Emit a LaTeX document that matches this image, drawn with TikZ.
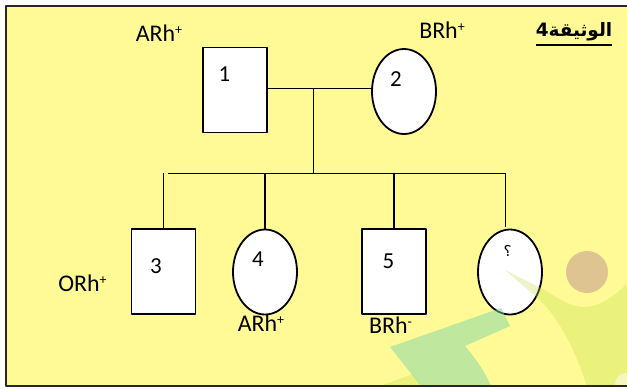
\documentclass[tikz,border=0pt]{standalone}
\usepackage{fontspec}
\setmainfont{Carlito}
\newfontfamily\arabicfont[Script=Arabic]{DejaVu Sans}
\TeXXeTstate=1
\usetikzlibrary{shapes.geometric}
\definecolor{docyellow}{RGB}{255,250,150}
\definecolor{logotan}{RGB}{222,196,145}
\definecolor{logogreen}{RGB}{129,213,167}
\definecolor{logolime}{RGB}{192,221,70}
\newcommand{\rhsign}[1]{\raisebox{7bp}{\fontsize{14}{14}\selectfont#1}}
\tikzset{
	male/.style={draw, fill=white, line width=1.8bp, minimum width=64bp, minimum height=85bp, inner sep=0pt},
	female/.style={ellipse, draw, fill=white, line width=1.8bp, minimum width=64bp, minimum height=85bp, inner sep=0pt},
	link/.style={line width=1.5bp},
	num/.style={inner sep=0pt},
	geno/.style={inner sep=0pt, font=\fontsize{24}{28}\selectfont},
}
\begin{document}
\begin{tikzpicture}[x=1bp, y=-1bp, font=\fontsize{23}{27}\selectfont, line join=round]
		\useasboundingbox (0,0) rectangle (627,388);
		\fill[white] (0,0) rectangle (627,388);
		\fill[docyellow] (6,6) rectangle (640,386);
		% parents and children
		\node[male] (p1) at (235,90) {};
		\node[female] (p2) at (404,91.5) {};
		\node[male] (p3) at (163.5,271.5) {};
		\node[female] (p4) at (265,272) {};
		\node[male] (p5) at (394,271.5) {};
		\node[female] (p6) at (510,272) {};
		\path (313.5,88.3) coordinate (m)
		(313.5,173.3) coordinate (s)
		(168,173.3) coordinate (sl)
		(506,173.3) coordinate (sr)
		(505.5,227) coordinate (q)
		;
		\draw[link] (p1.east |- m) -- (p2.west |- m);
		\draw[link] (m) -- (s);
		\draw[link] (sl) -- (sr);
		\foreach \c in {p3,p4,p5}
		\draw[link] (\c.north) -- (\c.north |- s);
		\draw[link] (q) -- (q |- s);
		% numbers
		\node[num] (n1) at (224.5,74.5) {1};
		\node[num] (n2) at (396,79) {2};
		\node[num] (n3) at (156,266) {3};
		\node[num] (n4) at (258,259.5) {4};
		\node[num] (n5) at (388.5,261.5) {5};
		\node[num] (n6) at (507.5,251) {\arabicfont\fontsize{15}{18}\selectfont\beginR ؟\endR};
		% blood groups
		\node[geno] (g1) at (159,33.5) {ARh\rhsign{+}};
		\node[geno] (g2) at (442,30) {BRh\rhsign{+}};
		\node[geno] (g3) at (82.5,283) {ORh\rhsign{+}};
		\node[geno] (g4) at (261,323.3) {ARh\rhsign{+}};
		\node[geno] (g5) at (390.5,325.5) {BRh\rhsign{-}};
		\node[geno] (t) at (574,32) {\arabicfont\fontsize{18.5}{22}\selectfont\bfseries\beginR الوثيقة\beginL 4\endL\endR};
		\draw[line width=2.4bp] ([yshift=-8bp]t.base west) -- ([yshift=-8bp]t.base east);
		% logo in the corner
		\fill[logotan] (587,272) circle (21);
		\fill[logolime, opacity=.3] (505,270) -- (545,290)
		.. controls (560,300) and (572,307) .. (585,307)
		.. controls (600,307) and (615,295) .. (628,283) -- (628,386) -- (587,386)
		.. controls (575,350) and (560,320) .. (540,300) -- cycle;
		\fill[logolime, opacity=.3] (380,386) -- (413,374) -- (421,386) -- cycle;
		\fill[logogreen, opacity=.5] (390,347) -- (501,308) -- (510,326) -- (465,346)
		.. controls (477,360) and (486,374) .. (491,386) -- (421,386) -- cycle;
		\fill[white, opacity=.5] (626,384) circle (11);
		\draw[line width=2bp, black!85] (6,6) rectangle (640,386);
\end{tikzpicture}
\end{document}
